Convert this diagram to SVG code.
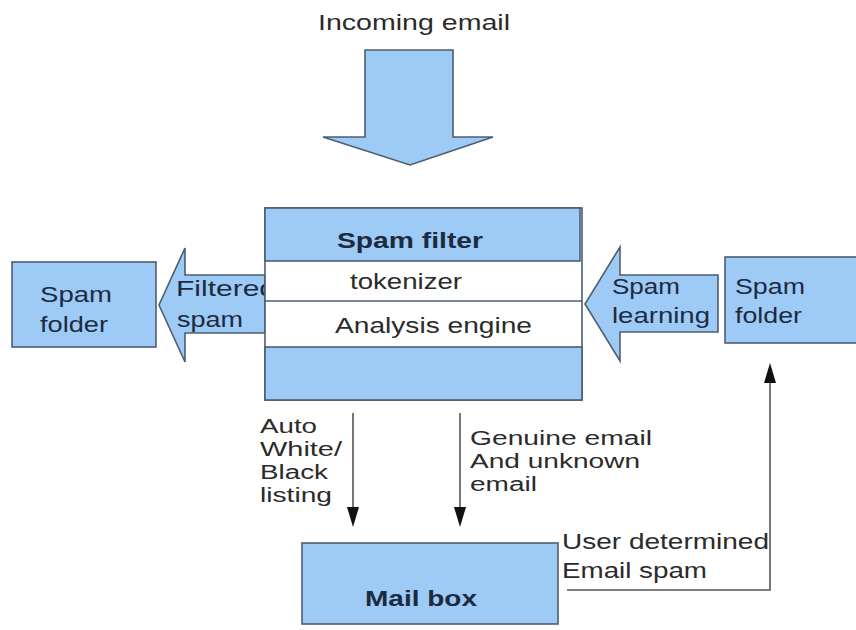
<svg xmlns="http://www.w3.org/2000/svg" width="856" height="630" viewBox="0 0 856 630">
  <style>
    .blue { fill: #9ecbf5; stroke: #4d5d72; stroke-width: 1.6; }
    .white { fill: #ffffff; stroke: #4d5d72; stroke-width: 1.6; }
    .t { font-family: "Liberation Sans", Arial, sans-serif; font-size: 22px; fill: #2b2b2b; }
    .tb { font-family: "Liberation Sans", Arial, sans-serif; font-size: 22px; fill: #1c2a42; }
    .sm { font-size: 20px; }
    .bold { font-weight: bold; }
    .line { fill: none; stroke: #555555; stroke-width: 1.6; }
  </style>
  <defs>
    <!-- solid triangular head; the line stops at its base -->
    <marker id="ah" markerWidth="20" markerHeight="12" refX="0" refY="6" orient="auto" markerUnits="userSpaceOnUse" viewBox="0 0 20 12">
      <path d="M0,0 L20,6 L0,12 Z" fill="#111111"/>
    </marker>
  </defs>
  <rect width="856" height="630" fill="#ffffff"/>

  <g id="incoming">
    <text class="t" x="318" y="30" textLength="192" lengthAdjust="spacingAndGlyphs">Incoming email</text>
    <polygon class="blue" points="365,50 453,50 453,137 493,137 410,165 323,137 365,137"/>
  </g>

  <g id="filtered-spam">
    <polygon class="blue" points="265,275 185,275 185,248 159,305 185,362 185,333 265,333"/>
    <text class="tb" x="176" y="296" textLength="100" lengthAdjust="spacingAndGlyphs">Filtered</text>
    <text class="tb" x="177" y="327" textLength="66" lengthAdjust="spacingAndGlyphs">spam</text>
  </g>

  <g id="spam-filter">
    <rect class="white" x="265" y="208" width="317" height="192"/>
    <rect class="blue" x="265" y="208" width="315" height="53"/>
    <line class="white" x1="265" y1="301" x2="582" y2="301"/>
    <rect class="blue" x="265" y="347" width="317" height="53"/>
    <text class="tb bold" x="337" y="248" textLength="146" lengthAdjust="spacingAndGlyphs">Spam filter</text>
    <text class="t" x="350" y="289" textLength="112" lengthAdjust="spacingAndGlyphs">tokenizer</text>
    <text class="t" x="335" y="333" textLength="197" lengthAdjust="spacingAndGlyphs">Analysis engine</text>
  </g>

  <g id="spam-folder-left">
    <rect class="blue" x="12" y="262" width="144" height="85"/>
    <text class="tb" x="40" y="302" textLength="72" lengthAdjust="spacingAndGlyphs">Spam</text>
    <text class="tb" x="40" y="332" textLength="68" lengthAdjust="spacingAndGlyphs">folder</text>
  </g>

  <g id="spam-learning">
    <polygon class="blue" points="718,275 620,275 620,247 585,304 620,361 620,332 718,332"/>
    <text class="tb" x="612" y="294" textLength="68" lengthAdjust="spacingAndGlyphs">Spam</text>
    <text class="tb" x="612" y="323" textLength="98" lengthAdjust="spacingAndGlyphs">learning</text>
  </g>

  <g id="spam-folder-right">
    <rect class="blue" x="725" y="257" width="140" height="86"/>
    <text class="tb" x="735" y="294" textLength="70" lengthAdjust="spacingAndGlyphs">Spam</text>
    <text class="tb" x="735" y="323" textLength="67" lengthAdjust="spacingAndGlyphs">folder</text>
  </g>

  <g id="mail-box">
    <rect class="blue" x="302" y="543" width="256" height="81"/>
    <text class="tb bold" x="365" y="606" textLength="112" lengthAdjust="spacingAndGlyphs">Mail box</text>
  </g>

  <g id="connectors">
    <line class="line" x1="353" y1="413" x2="353" y2="507" marker-end="url(#ah)"/>
    <line class="line" x1="460" y1="413" x2="460" y2="507" marker-end="url(#ah)"/>
    <polyline class="line" points="567,590 770,590 770,383" marker-end="url(#ah)"/>
  </g>

  <g id="labels">
    <text class="t sm" x="260" y="433" textLength="57" lengthAdjust="spacingAndGlyphs">Auto</text>
    <text class="t sm" x="260" y="456" textLength="82" lengthAdjust="spacingAndGlyphs">White/</text>
    <text class="t sm" x="260" y="479" textLength="68" lengthAdjust="spacingAndGlyphs">Black</text>
    <text class="t sm" x="260" y="502" textLength="72" lengthAdjust="spacingAndGlyphs">listing</text>
    <text class="t sm" x="470" y="445" textLength="182" lengthAdjust="spacingAndGlyphs">Genuine email</text>
    <text class="t sm" x="470" y="468" textLength="170" lengthAdjust="spacingAndGlyphs">And unknown</text>
    <text class="t sm" x="470" y="491" textLength="67" lengthAdjust="spacingAndGlyphs">email</text>
    <text class="t" x="562" y="549" textLength="207" lengthAdjust="spacingAndGlyphs">User determined</text>
    <text class="t" x="562" y="578" textLength="145" lengthAdjust="spacingAndGlyphs">Email spam</text>
  </g>
</svg>
